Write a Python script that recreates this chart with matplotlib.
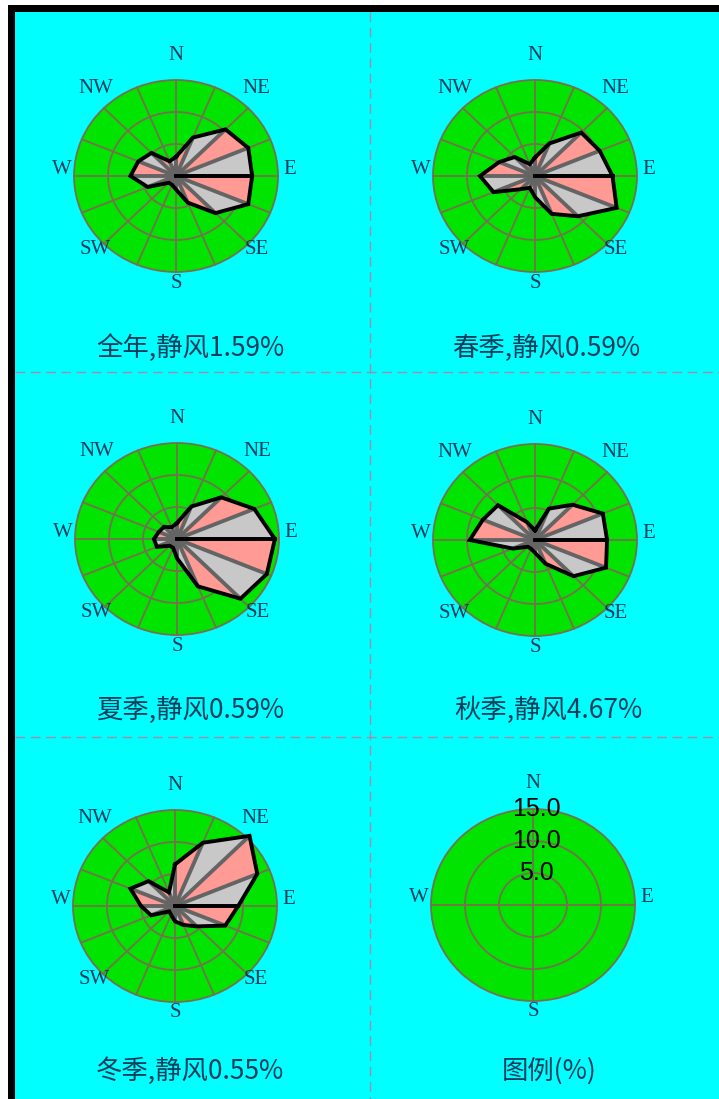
import numpy as np
import matplotlib
matplotlib.use("Agg")
import matplotlib.pyplot as plt
from matplotlib.patches import Circle, Rectangle

# 16 compass sectors, clockwise from north
directions = ["N", "NNE", "NE", "ENE", "E", "ESE", "SE", "SSE",
              "S", "SSW", "SW", "WSW", "W", "WNW", "NW", "NNW"]

# wind direction frequency (%) per sector
annual = [3.0, 6.5, 10.3, 11.5, 11.2, 11.5, 8.2, 4.5, 2.1, 1.5, 1.5, 4.5, 6.7, 6.0, 5.1, 2.5]
spring = [2.9, 5.5, 9.6, 10.3, 11.4, 13.0, 8.9, 6.4, 3.3, 2.0, 2.9, 6.6, 8.1, 5.7, 4.2, 2.0]
summer = [2.5, 5.5, 9.2, 12.3, 14.4, 14.3, 13.2, 8.0, 3.0, 1.5, 1.5, 3.2, 3.4, 2.9, 2.7, 2.0]
autumn = [1.5, 5.3, 7.8, 10.8, 10.6, 11.3, 8.0, 4.0, 2.0, 1.5, 1.5, 3.5, 9.6, 8.3, 7.7, 3.0]
winter = [6.5, 10.7, 15.5, 13.1, 9.3, 8.0, 4.5, 3.2, 2.4, 1.5, 1.2, 3.8, 5.0, 7.1, 5.5, 2.3]

season_names = ["全年", "春季", "夏季", "秋季", "冬季"]
calm = [1.59, 0.59, 0.59, 4.67, 0.55]
seasons = [annual, spring, summer, autumn, winter]

rings = [5.0, 10.0, 15.0]
compass_labels = ["N", "NE", "E", "SE", "S", "SW", "W", "NW"]
legend_title = "图例(%)"

W, H = 719, 1099
CYAN = "#00ffff"
GREEN = "#00e400"
GRID = "#76704e"
PINK = "#ff9a94"
LGRAY = "#c8c8c8"
SPOKE = "#646464"
TXT = "#0a3d5c"
CJK = ["Noto Sans CJK SC", "DejaVu Sans"]

R_X, R_Y = 102, 96     # outer ring radius in pixels
HALF = 150             # half-size of each panel axes in pixels
LBL_R = 114            # compass label distance in pixels
LBL_UP = 7

centers = [(176, 176), (535, 176), (177, 539), (535, 540), (175, 906), (533, 905)]
title_pos = [(190, 348), (546, 348), (190, 710), (548, 710), (190, 1071), (549, 1071)]

fig = plt.figure(figsize=(W / 100, H / 100), dpi=100)
fig.patch.set_facecolor("white")

bg = fig.add_axes([0, 0, 1, 1])
bg.set_xlim(0, W)
bg.set_ylim(H, 0)
bg.axis("off")
bg.add_patch(Rectangle((8, 5), W - 8, H - 5, facecolor="black", lw=0))
bg.add_patch(Rectangle((15, 12), W - 15, H - 12, facecolor=CYAN, lw=0))

sep = dict(color="#9c8fa8", lw=1.0, dashes=(7, 4))
bg.plot([370, 370], [12, H], **sep)
for y in (372, 737):
    bg.plot([15, W], [y, y], **sep)


def panel_axes(cx, cy):
    ax = fig.add_axes([(cx - HALF) / W, 1 - (cy + HALF) / H, 2 * HALF / W, 2 * HALF / H])
    sx = HALF / R_X * rings[-1]
    sy = HALF / R_Y * rings[-1]
    ax.set_xlim(-sx, sx)
    ax.set_ylim(-sy, sy)
    ax.axis("off")
    return ax


def draw_base(ax, n_spokes):
    ax.add_patch(Circle((0, 0), rings[-1], facecolor=GREEN, edgecolor=GRID, lw=1.3, zorder=1))
    for r in rings[:-1]:
        ax.add_patch(Circle((0, 0), r, facecolor="none", edgecolor=GRID, lw=1.3, zorder=2))
    for a in np.deg2rad(np.arange(n_spokes) * 360 / n_spokes):
        ax.plot([0, rings[-1] * np.sin(a)], [0, rings[-1] * np.cos(a)],
                color=GRID, lw=1.3, zorder=2)


def draw_labels(ax, names):
    sx = LBL_R / R_X * rings[-1]
    sy = LBL_R / R_Y * rings[-1]
    up = LBL_UP / R_Y * rings[-1]
    for name in names:
        a = np.deg2rad(directions.index(name) * 22.5)
        ax.text(sx * np.sin(a), sy * np.cos(a) + up, name, ha="center", va="center",
                fontsize=15, family="Liberation Serif", color=TXT)


def draw_rose(ax, freq):
    theta = np.deg2rad(np.arange(len(freq)) * 22.5)
    r = np.asarray(freq)
    x = r * np.sin(theta)
    y = r * np.cos(theta)
    n = len(r)
    for i in range(n):
        j = (i + 1) % n
        ax.fill([0, x[i], x[j]], [0, y[i], y[j]],
                facecolor=LGRAY if i % 2 else PINK, edgecolor="none", zorder=3)
    for i in range(n):
        ax.plot([0, x[i]], [0, y[i]], color=SPOKE, lw=2.8, zorder=4,
                solid_capstyle="butt")
    ax.plot(np.append(x, x[0]), np.append(y, y[0]), color="black", lw=2.8,
            zorder=5, solid_joinstyle="miter")
    e = directions.index("E")
    ax.plot([0, x[e]], [0, y[e]], color="black", lw=2.8, zorder=5)


for k, (name, c, freq) in enumerate(zip(season_names, calm, seasons)):
    ax = panel_axes(*centers[k])
    draw_base(ax, 16)
    draw_rose(ax, freq)
    draw_labels(ax, compass_labels)
    tx, ty = title_pos[k]
    bg.text(tx, ty, f"{name},静风{c:.2f}%", ha="center", va="center",
            fontsize=19, color=TXT, family=CJK)

# scale legend panel
ax = panel_axes(*centers[5])
draw_base(ax, 4)
draw_labels(ax, ["N", "E", "S", "W"])
for r in rings:
    ax.text(0.45, r, f"{r:.1f}", ha="center", va="center", fontsize=18,
            family="Liberation Sans", color="black", zorder=6)
tx, ty = title_pos[5]
bg.text(tx, ty, legend_title, ha="center", va="center", fontsize=19, color=TXT, family=CJK)

fig.savefig("out.png", dpi=100, facecolor=fig.get_facecolor())
